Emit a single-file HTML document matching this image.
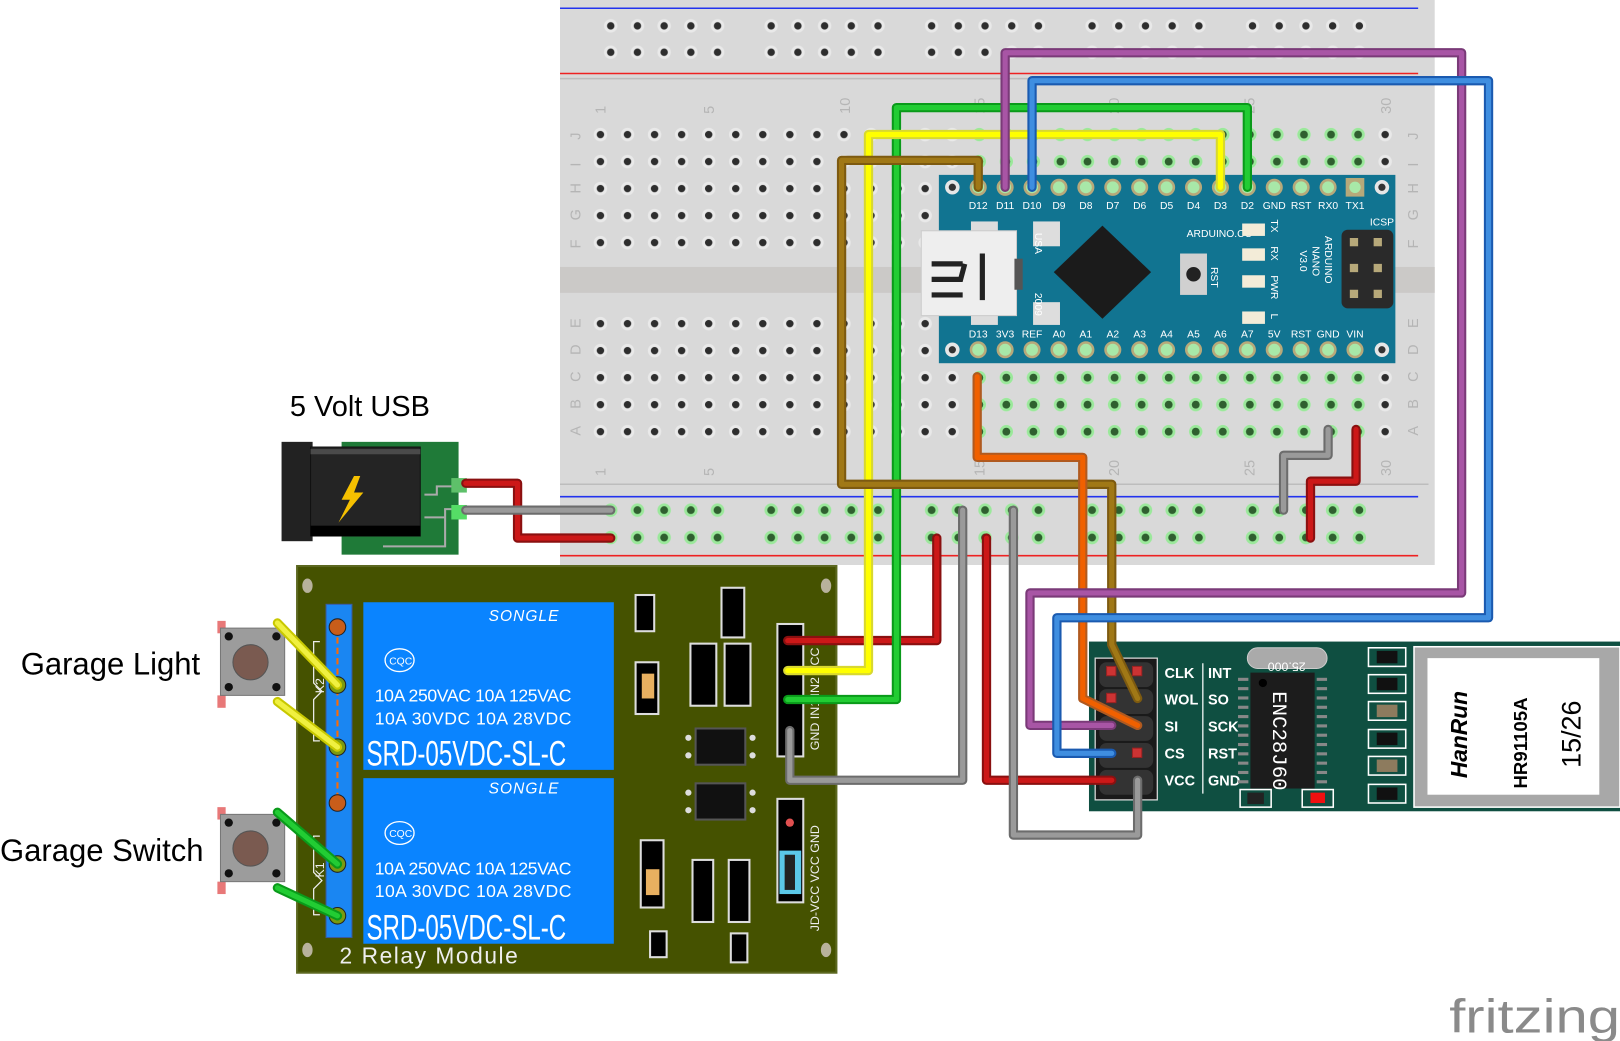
<!DOCTYPE html>
<html><head><meta charset="utf-8"><style>
html,body{margin:0;padding:0;background:#fff;}
svg{display:block;}
text{font-family:"Liberation Sans",sans-serif;}
.mono{font-family:"Liberation Mono","DejaVu Sans Mono",monospace;}
</style></head><body>
<svg width="1620" height="1041" viewBox="0 0 1565 1006" preserveAspectRatio="none" xmlns="http://www.w3.org/2000/svg">
<defs>
<pattern id="hg" x="567" y="117" width="26.14" height="26.1" patternUnits="userSpaceOnUse">
<circle cx="13.07" cy="13.05" r="6.5" fill="#e9e9e9"/><circle cx="13.07" cy="13.05" r="3.6" fill="#2e2e2e"/></pattern>
<pattern id="hgg" x="567" y="117" width="26.14" height="26.1" patternUnits="userSpaceOnUse">
<circle cx="13.07" cy="13.05" r="6.5" fill="#9be89b"/><circle cx="13.07" cy="13.05" r="3.8" fill="#2f5f2f"/></pattern>
<pattern id="rail" x="577" y="12" width="155" height="25.5" patternUnits="userSpaceOnUse">
<g fill="#e9e9e9"><circle cx="13" cy="13" r="6.5"/><circle cx="38.8" cy="13" r="6.5"/><circle cx="64.6" cy="13" r="6.5"/><circle cx="90.4" cy="13" r="6.5"/><circle cx="116.2" cy="13" r="6.5"/></g>
<g fill="#2e2e2e"><circle cx="13" cy="13" r="3.6"/><circle cx="38.8" cy="13" r="3.6"/><circle cx="64.6" cy="13" r="3.6"/><circle cx="90.4" cy="13" r="3.6"/><circle cx="116.2" cy="13" r="3.6"/></g></pattern>
<pattern id="railg" x="577" y="480" width="155" height="26.5" patternUnits="userSpaceOnUse">
<g fill="#9be89b"><circle cx="13" cy="13" r="6.5"/><circle cx="38.8" cy="13" r="6.5"/><circle cx="64.6" cy="13" r="6.5"/><circle cx="90.4" cy="13" r="6.5"/><circle cx="116.2" cy="13" r="6.5"/></g>
<g fill="#2f5f2f"><circle cx="13" cy="13" r="3.8"/><circle cx="38.8" cy="13" r="3.8"/><circle cx="64.6" cy="13" r="3.8"/><circle cx="90.4" cy="13" r="3.8"/><circle cx="116.2" cy="13" r="3.8"/></g></pattern>
</defs>

<!-- Breadboard -->
<rect x="541" y="0" width="845" height="546" fill="#d9d9d9"/>
<line x1="541" y1="8" x2="1370" y2="8" stroke="#2233ee" stroke-width="1.5"/>
<line x1="541" y1="71" x2="1370" y2="71" stroke="#ee2222" stroke-width="1.5"/>
<line x1="541" y1="76" x2="1380" y2="76" stroke="#bdbdbd" stroke-width="1.5"/>
<rect x="577" y="12" width="750" height="51" fill="url(#rail)"/>
<rect x="541" y="258" width="845" height="25" fill="#cbc9c7"/>
<rect x="567" y="117" width="786" height="131" fill="url(#hg)"/>
<rect x="567" y="299" width="786" height="131" fill="url(#hg)"/>
<rect x="932" y="117" width="392" height="131" fill="url(#hgg)"/>
<rect x="932" y="299" width="392" height="131" fill="url(#hgg)"/>
<line x1="541" y1="468" x2="1380" y2="468" stroke="#bdbdbd" stroke-width="1.5"/>
<line x1="541" y1="480" x2="1370" y2="480" stroke="#2233ee" stroke-width="1.5"/>
<line x1="541" y1="537" x2="1370" y2="537" stroke="#ee2222" stroke-width="1.5"/>
<rect x="577" y="480" width="750" height="53" fill="url(#railg)"/>
<g fill="#b5b5b5" font-size="14">
<text transform="translate(585,110) rotate(-90)">1</text>
<text transform="translate(690,110) rotate(-90)">5</text>
<text transform="translate(821,110) rotate(-90)">10</text>
<text transform="translate(951,110) rotate(-90)">15</text>
<text transform="translate(1081,110) rotate(-90)">20</text>
<text transform="translate(1212,110) rotate(-90)">25</text>
<text transform="translate(1344,110) rotate(-90)">30</text>
<text transform="translate(585,460) rotate(-90)">1</text>
<text transform="translate(690,460) rotate(-90)">5</text>
<text transform="translate(951,460) rotate(-90)">15</text>
<text transform="translate(1081,460) rotate(-90)">20</text>
<text transform="translate(1212,460) rotate(-90)">25</text>
<text transform="translate(1344,460) rotate(-90)">30</text>
<g><text transform="translate(561,135) rotate(-90)">J</text><text transform="translate(561,161) rotate(-90)">I</text><text transform="translate(561,187) rotate(-90)">H</text><text transform="translate(561,213) rotate(-90)">G</text><text transform="translate(561,240) rotate(-90)">F</text><text transform="translate(561,317) rotate(-90)">E</text><text transform="translate(561,343) rotate(-90)">D</text><text transform="translate(561,369) rotate(-90)">C</text><text transform="translate(561,395) rotate(-90)">B</text><text transform="translate(561,421) rotate(-90)">A</text></g>
<g><text transform="translate(1370,135) rotate(-90)">J</text><text transform="translate(1370,161) rotate(-90)">I</text><text transform="translate(1370,187) rotate(-90)">H</text><text transform="translate(1370,213) rotate(-90)">G</text><text transform="translate(1370,240) rotate(-90)">F</text><text transform="translate(1370,317) rotate(-90)">E</text><text transform="translate(1370,343) rotate(-90)">D</text><text transform="translate(1370,369) rotate(-90)">C</text><text transform="translate(1370,395) rotate(-90)">B</text><text transform="translate(1370,421) rotate(-90)">A</text></g>
</g>

<!-- Arduino Nano -->
<rect x="907" y="169" width="441" height="182" fill="#117491"/>
<rect x="938" y="214" width="26" height="24" fill="#ddd"/><rect x="998" y="214" width="26" height="24" fill="#ddd"/>
<rect x="938" y="292" width="26" height="22" fill="#ddd"/><rect x="998" y="292" width="26" height="22" fill="#ddd"/>
<rect x="890" y="223" width="92" height="82" fill="#eeeeee" stroke="#ccc"/>
<rect x="980" y="250" width="8" height="30" fill="#555"/>
<path d="M900 255 h30 M900 270 h28 l4 -15 M900 285 h30 M949 245 v45" stroke="#222" stroke-width="5" fill="none"/>
<circle cx="920" cy="181" r="7" fill="#e6e6e6"/><circle cx="920" cy="181" r="3.5" fill="#333"/>
<circle cx="1335" cy="181" r="7" fill="#e6e6e6"/><circle cx="1335" cy="181" r="3.5" fill="#333"/>
<circle cx="920" cy="338" r="7" fill="#e6e6e6"/><circle cx="920" cy="338" r="3.5" fill="#333"/>
<circle cx="1335" cy="338" r="7" fill="#e6e6e6"/><circle cx="1335" cy="338" r="3.5" fill="#333"/>
<g fill="#a8e8a8" stroke="#b7a97a" stroke-width="2.5">
<circle cx="945" cy="181" r="7"/><circle cx="971" cy="181" r="7"/><circle cx="997" cy="181" r="7"/><circle cx="1023" cy="181" r="7"/><circle cx="1049" cy="181" r="7"/><circle cx="1075" cy="181" r="7"/><circle cx="1101" cy="181" r="7"/><circle cx="1127" cy="181" r="7"/><circle cx="1153" cy="181" r="7"/><circle cx="1179" cy="181" r="7"/><circle cx="1205" cy="181" r="7"/><circle cx="1231" cy="181" r="7"/><circle cx="1257" cy="181" r="7"/><circle cx="1283" cy="181" r="7"/>
<circle cx="945" cy="338" r="7"/><circle cx="971" cy="338" r="7"/><circle cx="997" cy="338" r="7"/><circle cx="1023" cy="338" r="7"/><circle cx="1049" cy="338" r="7"/><circle cx="1075" cy="338" r="7"/><circle cx="1101" cy="338" r="7"/><circle cx="1127" cy="338" r="7"/><circle cx="1153" cy="338" r="7"/><circle cx="1179" cy="338" r="7"/><circle cx="1205" cy="338" r="7"/><circle cx="1231" cy="338" r="7"/><circle cx="1257" cy="338" r="7"/><circle cx="1283" cy="338" r="7"/><circle cx="1309" cy="338" r="7"/>
</g>
<rect x="1300" y="172" width="18" height="18" fill="#b7a97a"/><circle cx="1309" cy="181" r="5.5" fill="#a8e8a8"/>
<g class="mono" fill="#fff" font-size="10" text-anchor="middle">
<text x="945" y="202">D12</text><text x="971" y="202">D11</text><text x="997" y="202">D10</text><text x="1023" y="202">D9</text><text x="1049" y="202">D8</text><text x="1075" y="202">D7</text><text x="1101" y="202">D6</text><text x="1127" y="202">D5</text><text x="1153" y="202">D4</text><text x="1179" y="202">D3</text><text x="1205" y="202">D2</text><text x="1231" y="202">GND</text><text x="1257" y="202">RST</text><text x="1283" y="202">RX0</text><text x="1309" y="202">TX1</text>
<text x="945" y="326">D13</text><text x="971" y="326">3V3</text><text x="997" y="326">REF</text><text x="1023" y="326">A0</text><text x="1049" y="326">A1</text><text x="1075" y="326">A2</text><text x="1101" y="326">A3</text><text x="1127" y="326">A4</text><text x="1153" y="326">A5</text><text x="1179" y="326">A6</text><text x="1205" y="326">A7</text><text x="1231" y="326">5V</text><text x="1257" y="326">RST</text><text x="1283" y="326">GND</text><text x="1309" y="326">VIN</text>
<text x="1178" y="229">ARDUINO.CC</text>
<text x="1335" y="218">ICSP</text>
</g>
<g class="mono" fill="#fff" font-size="10"><text transform="translate(1000,225) rotate(90)">USA</text><text transform="translate(1000,283) rotate(90)">2009</text><text transform="translate(1170,258) rotate(90)">RST</text>
<text transform="translate(1228,212) rotate(90)">TX</text><text transform="translate(1228,238) rotate(90)">RX</text><text transform="translate(1228,266) rotate(90)">PWR</text><text transform="translate(1228,303) rotate(90)">L</text>
<text transform="translate(1280,228) rotate(90)">ARDUINO</text><text transform="translate(1268,238) rotate(90)">NANO</text><text transform="translate(1256,242) rotate(90)">V3.0</text></g>
<path d="M1065 218 L1112 263 L1065 308 L1018 263 Z" fill="#1b1b1b"/>
<rect x="1140" y="245" width="26" height="40" fill="#d0d0d0"/><circle cx="1153" cy="265" r="7" fill="#222"/>
<g fill="#f3ecd8"><rect x="1200" y="216" width="22" height="12"/><rect x="1200" y="240" width="22" height="12"/><rect x="1200" y="266" width="22" height="12"/><rect x="1200" y="301" width="22" height="12"/></g>
<rect x="1296" y="222" width="50" height="76" rx="6" fill="#2a2a2a"/>
<g fill="#b7a97a"><rect x="1304" y="230" width="8" height="8"/><rect x="1327" y="230" width="8" height="8"/><rect x="1304" y="255" width="8" height="8"/><rect x="1327" y="255" width="8" height="8"/><rect x="1304" y="280" width="8" height="8"/><rect x="1327" y="280" width="8" height="8"/></g>

<!-- Power jack -->
<text x="280" y="402" font-size="28" fill="#000">5 Volt USB</text>
<rect x="330" y="427" width="113" height="109" fill="#1f7a38"/>
<rect x="272" y="427" width="30" height="96" fill="#222"/>
<rect x="300" y="432" width="106" height="86" fill="#242424" stroke="#111"/>
<rect x="300" y="434" width="106" height="5" fill="#4a4a4a"/>
<rect x="300" y="508" width="106" height="10" fill="#000"/>
<path d="M342 460 L330 483 L338 483 L327 505 L351 476 L342 476 L348 460 Z" fill="#f5c000"/>
<path d="M410 478 h12 v-8 h15 M410 500 h20 v-8 h7 M370 528 h60 v-30" stroke="#aaa" stroke-width="2" fill="none"/>
<rect x="436" y="462" width="15" height="14" fill="#5ec06a"/><rect x="436" y="488" width="15" height="14" fill="#55dd66"/>

<!-- Relay module -->
<rect x="287" y="547" width="521" height="393" fill="#455200" stroke="#5c6820" stroke-width="2"/>
<g fill="#b8b29c"><ellipse cx="297" cy="566" rx="5" ry="7"/><ellipse cx="798" cy="566" rx="5" ry="7"/><ellipse cx="297" cy="918" rx="5" ry="7"/><ellipse cx="798" cy="918" rx="5" ry="7"/></g>
<rect x="315" y="584" width="25" height="322" fill="#1a86f2" stroke="#3a5aa0"/>
<line x1="326" y1="606" x2="326" y2="776" stroke="#ff6a00" stroke-width="2" stroke-dasharray="6,4"/>
<g fill="#c85d1a" stroke="#222"><circle cx="326" cy="606" r="8"/><circle cx="326" cy="776" r="8"/></g>
<g fill="#7a9a10" stroke="#222"><circle cx="326" cy="662" r="8"/><circle cx="326" cy="722" r="8"/><circle cx="326" cy="835" r="8"/><circle cx="326" cy="885" r="8"/></g>
<path d="M309 620 h-6 v40 l8 8 -8 8 v40 h6" stroke="#eee" fill="none" stroke-width="1.2"/>
<path d="M309 808 h-6 v35 l8 8 -8 8 v25 h6" stroke="#eee" fill="none" stroke-width="1.2"/>
<text transform="translate(313,670) rotate(-90)" fill="#eee" font-size="12">K2</text>
<text transform="translate(313,848) rotate(-90)" fill="#eee" font-size="12">K1</text>
<g>
<rect x="351" y="582" width="242" height="162" fill="#0a84ff"/>
<rect x="351" y="752" width="242" height="160" fill="#0a84ff"/>
<g fill="#fff">
<text x="472" y="600" font-size="15" font-style="italic" letter-spacing="1">SONGLE</text>
<ellipse cx="386" cy="638" rx="14" ry="11" fill="none" stroke="#fff" stroke-width="1.3"/><text x="376" y="642" font-size="10">CQC</text>
<text x="362" y="678" font-size="17" textLength="190">10A 250VAC 10A 125VAC</text>
<text x="362" y="700" font-size="17" textLength="190">10A  30VDC 10A  28VDC</text>
<text x="354" y="740" font-size="34" textLength="193" lengthAdjust="spacingAndGlyphs">SRD-05VDC-SL-C</text>
<text x="472" y="767" font-size="15" font-style="italic" letter-spacing="1">SONGLE</text>
<ellipse cx="386" cy="805" rx="14" ry="11" fill="none" stroke="#fff" stroke-width="1.3"/><text x="376" y="809" font-size="10">CQC</text>
<text x="362" y="845" font-size="17" textLength="190">10A 250VAC 10A 125VAC</text>
<text x="362" y="867" font-size="17" textLength="190">10A  30VDC 10A  28VDC</text>
<text x="354" y="908" font-size="34" textLength="193" lengthAdjust="spacingAndGlyphs">SRD-05VDC-SL-C</text>
</g></g>
<text x="328" y="931" font-size="22" fill="#eee" letter-spacing="1.5">2 Relay Module</text>
<g fill="#000" stroke="#ddd" stroke-width="2">
<rect x="614" y="575" width="18" height="35"/><rect x="697" y="568" width="22" height="48"/>
<rect x="614" y="640" width="22" height="50"/><rect x="667" y="622" width="25" height="60"/><rect x="700" y="622" width="25" height="60"/>
<rect x="619" y="812" width="22" height="65"/><rect x="669" y="831" width="20" height="60"/><rect x="704" y="831" width="20" height="60"/>
<rect x="628" y="900" width="16" height="25"/><rect x="706" y="902" width="16" height="28"/>
</g>
<rect x="620" y="651" width="12" height="24" fill="#e8b060"/><rect x="624" y="840" width="13" height="25" fill="#e8b060"/>
<g fill="#111" stroke="#555" stroke-width="2"><rect x="672" y="704" width="48" height="35"/><rect x="672" y="757" width="48" height="35"/></g>
<g fill="#ddd"><circle cx="665" cy="713" r="3"/><circle cx="665" cy="730" r="3"/><circle cx="727" cy="713" r="3"/><circle cx="727" cy="730" r="3"/><circle cx="665" cy="766" r="3"/><circle cx="665" cy="783" r="3"/><circle cx="727" cy="766" r="3"/><circle cx="727" cy="783" r="3"/></g>
<rect x="751" y="603" width="25" height="128" fill="#000" stroke="#ddd" stroke-width="2"/>
<text transform="translate(791,725) rotate(-90)" fill="#eee" font-size="12">GND IN1 IN2 VCC</text>
<rect x="751" y="772" width="25" height="100" fill="#000" stroke="#ddd" stroke-width="2"/>
<rect x="753" y="822" width="21" height="42" fill="#5bc8e8"/><rect x="758" y="826" width="10" height="34" fill="#222"/>
<circle cx="763" cy="795" r="4" fill="#e05050"/>
<text transform="translate(791,900) rotate(-90)" fill="#eee" font-size="12">JD-VCC VCC GND</text>

<!-- Buttons -->
<g>
<rect x="210" y="600" width="8" height="12" fill="#e87878"/><rect x="210" y="672" width="8" height="12" fill="#e87878"/>
<rect x="213" y="607" width="62" height="65" fill="#9c9c9c" stroke="#777"/>
<circle cx="242" cy="640" r="17" fill="#7a5a50" stroke="#555"/>
<g fill="#111"><circle cx="221" cy="615" r="4"/><circle cx="267" cy="615" r="4"/><circle cx="221" cy="664" r="4"/><circle cx="267" cy="664" r="4"/></g>
<rect x="210" y="780" width="8" height="12" fill="#e87878"/><rect x="210" y="852" width="8" height="12" fill="#e87878"/>
<rect x="213" y="787" width="62" height="65" fill="#9c9c9c" stroke="#777"/>
<circle cx="242" cy="820" r="17" fill="#7a5a50" stroke="#555"/>
<g fill="#111"><circle cx="221" cy="795" r="4"/><circle cx="267" cy="795" r="4"/><circle cx="221" cy="844" r="4"/><circle cx="267" cy="844" r="4"/></g>
</g>
<text x="20" y="652" font-size="30" fill="#000">Garage Light</text>
<text x="0" y="832" font-size="30" fill="#000">Garage Switch</text>

<!-- ENC28J60 -->
<rect x="1052" y="620" width="513" height="164" fill="#0f4f41"/>
<rect x="1058" y="636" width="60" height="137" fill="#1a1a1a" stroke="#ddd" stroke-width="1.2"/>
<g fill="#333"><rect x="1062" y="640" width="52" height="24" rx="7"/><rect x="1062" y="666" width="52" height="24" rx="7"/><rect x="1062" y="692" width="52" height="24" rx="7"/><rect x="1062" y="718" width="52" height="24" rx="7"/><rect x="1062" y="744" width="52" height="24" rx="7"/></g>
<g fill="#cc3333" stroke="#922"><rect x="1069" y="644" width="9" height="9"/><rect x="1094" y="644" width="9" height="9"/><rect x="1069" y="670" width="9" height="9"/><rect x="1094" y="723" width="9" height="9"/></g>
<g fill="#fff" font-size="14" font-weight="bold"><text x="1125" y="655">CLK</text><text x="1125" y="681">WOL</text><text x="1125" y="707">SI</text><text x="1125" y="733">CS</text><text x="1125" y="759">VCC</text>
<text x="1167" y="655">INT</text><text x="1167" y="681">SO</text><text x="1167" y="707">SCK</text><text x="1167" y="733">RST</text><text x="1167" y="759">GND</text></g>
<line x1="1162" y1="641" x2="1162" y2="767" stroke="#fff" stroke-width="1.2"/>
<rect x="1205" y="626" width="77" height="20" rx="10" fill="#aaa" stroke="#ccc"/>
<text x="1243" y="632" fill="#fff" font-size="12" text-anchor="middle" transform="rotate(180,1243,636)">25.000</text>
<g fill="#888"><rect x="1196" y="655" width="10" height="3"/><rect x="1196" y="664" width="10" height="3"/><rect x="1196" y="673" width="10" height="3"/><rect x="1196" y="682" width="10" height="3"/><rect x="1196" y="691" width="10" height="3"/><rect x="1196" y="700" width="10" height="3"/><rect x="1196" y="709" width="10" height="3"/><rect x="1196" y="718" width="10" height="3"/><rect x="1196" y="727" width="10" height="3"/><rect x="1196" y="736" width="10" height="3"/><rect x="1196" y="745" width="10" height="3"/><rect x="1196" y="754" width="10" height="3"/>
<rect x="1272" y="655" width="10" height="3"/><rect x="1272" y="664" width="10" height="3"/><rect x="1272" y="673" width="10" height="3"/><rect x="1272" y="682" width="10" height="3"/><rect x="1272" y="691" width="10" height="3"/><rect x="1272" y="700" width="10" height="3"/><rect x="1272" y="709" width="10" height="3"/><rect x="1272" y="718" width="10" height="3"/><rect x="1272" y="727" width="10" height="3"/><rect x="1272" y="736" width="10" height="3"/><rect x="1272" y="745" width="10" height="3"/><rect x="1272" y="754" width="10" height="3"/></g>
<rect x="1208" y="650" width="62" height="112" fill="#1c1c1c"/>
<circle cx="1220" cy="660" r="4" fill="#000"/>
<text class="mono" transform="translate(1230,668) rotate(90)" fill="#fff" font-size="20">ENC28J60</text>
<g fill="none" stroke="#fff" stroke-width="1.5"><rect x="1198" y="763" width="30" height="17"/><rect x="1258" y="763" width="30" height="17"/></g>
<rect x="1205" y="766" width="16" height="11" fill="#222"/><rect x="1266" y="766" width="14" height="10" fill="#f01010"/>
<g fill="none" stroke="#fff" stroke-width="1.5"><rect x="1322" y="626" width="36" height="18"/><rect x="1322" y="652" width="36" height="18"/><rect x="1322" y="678" width="36" height="18"/><rect x="1322" y="705" width="36" height="18"/><rect x="1322" y="731" width="36" height="18"/><rect x="1322" y="758" width="36" height="18"/></g>
<g><rect x="1330" y="629" width="20" height="12" fill="#111"/><rect x="1330" y="655" width="20" height="12" fill="#111"/><rect x="1330" y="681" width="20" height="12" fill="#8d7b5e"/><rect x="1330" y="708" width="20" height="12" fill="#111"/><rect x="1330" y="734" width="20" height="12" fill="#8d7b5e"/><rect x="1330" y="761" width="20" height="12" fill="#111"/></g>
<rect x="1366" y="625" width="199" height="155" fill="#a8a8a8" stroke="#fff" stroke-width="1.5"/>
<rect x="1379" y="636" width="166" height="132" fill="#fff"/>
<text transform="translate(1417,752) rotate(-90)" font-size="22" font-weight="bold" font-style="italic" fill="#000">HanRun</text>
<text transform="translate(1475,762) rotate(-90)" font-size="18" font-weight="bold" fill="#000">HR91105A</text>
<text transform="translate(1527,742) rotate(-90)" font-size="26" fill="#000">15/26</text>

<!-- Wires -->
<g fill="none" stroke-linejoin="round" stroke-linecap="round">
<g stroke="#8a1010" stroke-width="9">
<path d="M450 467 H500 V520 H590"/><path d="M1310 415 V465 H1266 V520"/><path d="M905 520 V619 H761"/><path d="M953 520 V754 H1074"/></g>
<g stroke="#cc1818" stroke-width="5">
<path d="M450 467 H500 V520 H590"/><path d="M1310 415 V465 H1266 V520"/><path d="M905 520 V619 H761"/><path d="M953 520 V754 H1074"/></g>
<g stroke="#6c6c6c" stroke-width="9">
<path d="M450 493 H590"/><path d="M1283 415 V440 H1240 V493"/><path d="M930 493 V754 H763 V706"/><path d="M979 493 V807 H1099 V754"/></g>
<g stroke="#9a9a9a" stroke-width="5">
<path d="M450 493 H590"/><path d="M1283 415 V440 H1240 V493"/><path d="M930 493 V754 H763 V706"/><path d="M979 493 V807 H1099 V754"/></g>
<path d="M1205 181 V104 H866 V676 H761" stroke="#0a9a1a" stroke-width="9"/>
<path d="M1205 181 V104 H866 V676 H761" stroke="#22cc33" stroke-width="5"/>
<path d="M1179 181 V130 H839 V648 H761" stroke="#d8d830" stroke-width="9"/>
<path d="M1179 181 V130 H839 V648 H761" stroke="#ffff00" stroke-width="5"/>
<path d="M945 181 V155 H813 V468 H1074 V623 L1099 675" stroke="#7d5a10" stroke-width="9"/>
<path d="M945 181 V155 H813 V468 H1074 V623 L1099 675" stroke="#a07816" stroke-width="5"/>
<path d="M944 364 V442 H1046 V675 L1099 701" stroke="#b05a20" stroke-width="9"/>
<path d="M944 364 V442 H1046 V675 L1099 701" stroke="#f06000" stroke-width="5"/>
<path d="M971 181 V51 H1412 V573 H995 V701 H1074" stroke="#7a3a78" stroke-width="9"/>
<path d="M971 181 V51 H1412 V573 H995 V701 H1074" stroke="#a855a5" stroke-width="5"/>
<path d="M997 181 V78 H1438 V597 H1021 V728 H1074" stroke="#1a5ab0" stroke-width="9"/>
<path d="M997 181 V78 H1438 V597 H1021 V728 H1074" stroke="#3f8ee0" stroke-width="5"/>
<g stroke-width="9" stroke="#c8c800"><path d="M268 602 L326 662"/><path d="M268 678 L326 722"/></g>
<g stroke-width="5" stroke="#f0f040"><path d="M268 602 L326 662"/><path d="M268 678 L326 722"/></g>
<g stroke-width="9" stroke="#0a9a1a"><path d="M268 785 L326 835"/><path d="M268 858 L326 885"/></g>
<g stroke-width="5" stroke="#22cc33"><path d="M268 785 L326 835"/><path d="M268 858 L326 885"/></g>
</g>

<!-- fritzing logo -->
<text x="1400" y="998" font-size="46" fill="#8a8a8a" textLength="165" lengthAdjust="spacingAndGlyphs" font-family="'DejaVu Sans','Liberation Sans',sans-serif">fritzing</text>
</svg>
</body></html>
